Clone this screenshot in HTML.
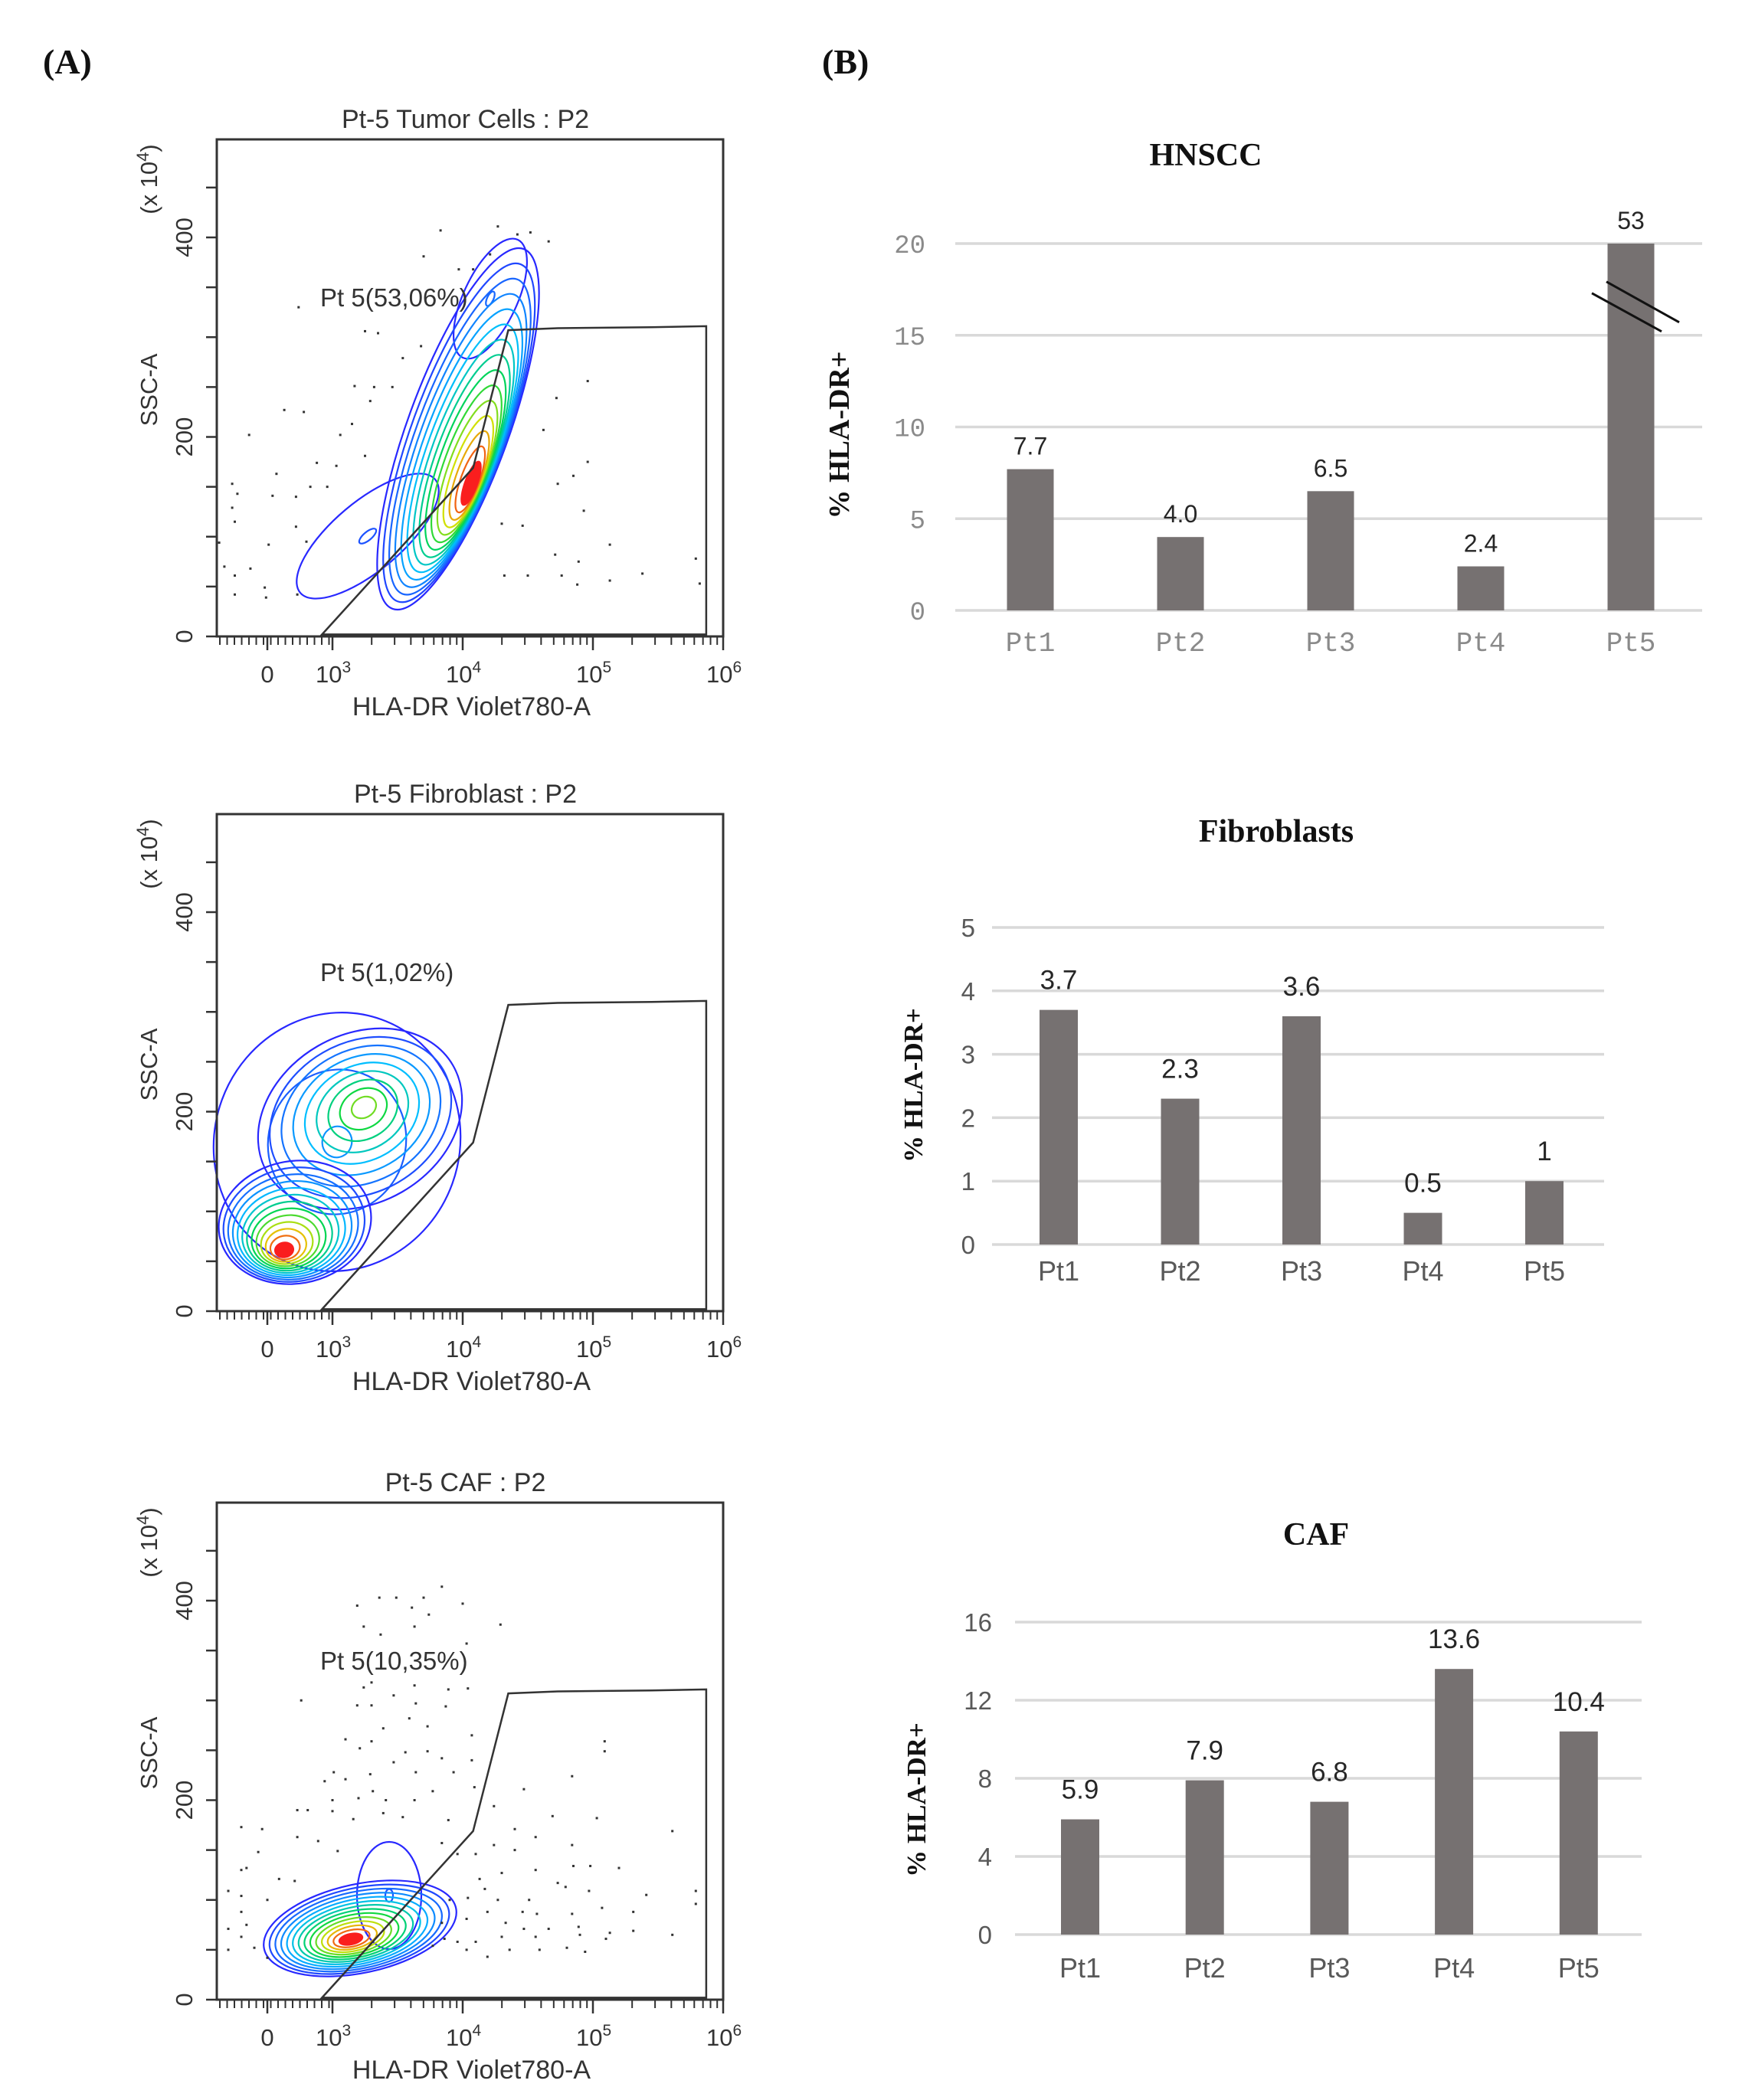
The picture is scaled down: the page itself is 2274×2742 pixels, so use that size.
<!DOCTYPE html>
<html><head><meta charset="utf-8">
<style>
html,body{margin:0;padding:0;background:#fff;}
svg{display:block;}
</style></head>
<body>
<svg id="fig" xmlns="http://www.w3.org/2000/svg" width="2274" height="2742" viewBox="0 0 2274 2742">
<rect x="0" y="0" width="2274" height="2742" fill="#fff"/>
<text x="56" y="96" font-family="Liberation Serif, serif" font-weight="bold" font-size="46" fill="#111">(A)</text>
<text x="1073" y="96" font-family="Liberation Serif, serif" font-weight="bold" font-size="46" fill="#111">(B)</text>
<g id="flows"></g>
<g id="bars"></g>
</svg>
<script>
// ---------- Bar chart data ----------
const categories = ["Pt1","Pt2","Pt3","Pt4","Pt5"];
const hnsccValues = [7.7, 4.0, 6.5, 2.4, 53];
const hnsccLabels = ["7.7","4.0","6.5","2.4","53"];
const hnsccTicks = [0,5,10,15,20];
const fibroValues = [3.7, 2.3, 3.6, 0.5, 1];
const fibroLabels = ["3.7","2.3","3.6","0.5","1"];
const fibroTicks = [0,1,2,3,4,5];
const cafValues = [5.9, 7.9, 6.8, 13.6, 10.4];
const cafLabels = ["5.9","7.9","6.8","13.6","10.4"];
const cafTicks = [0,4,8,12,16];

// ---------- Flow cytometry dot data (x in log decades, y in SSC x10^4) ----------
const tumorDotsX = [3.83,4.27,4.42,4.52,4.66,4.21,3.7,3.97,4.08,2.74,3.25,3.35,3.68,3.54,3.17,3.32,3.46,2.63,2.78,3.29,3.15,3.06,2.36,2.88,3.03,3.25,2.57,2.23,2.27,2.54,2.72,2.83,2.96,2.23,2.72,2.25,2.13,2.51,2.8,2.17,2.37,2.25,2.48,2.25,2.49,2.73,4.96,4.72,4.62,4.96,4.85,4.73,4.93,5.13,4.71,4.89,4.32,4.5,4.76,4.88,5.13,5.38,5.79,5.82,4.3,4.46];
const tumorDotsY = [407,411,403,405,396,383,381,368,368,330,306,304,291,279,251,250,250,227,225,236,213,202,202,174,171,181,163,153,143,141,140,150,150,129,110,115,94,92,95,70,68,61,49,42,39,42,256,239,207,175,161,153,126,92,82,75,61,61,61,52,56,63,78,53,113,111];
const cafDotsX = [3.84,3.36,3.49,3.70,3.19,3.61,3.74,4.0,4.29,3.24,3.63,3.37,4.03,2.76,3.24,3.30,3.47,3.63,3.89,4.04,3.19,3.30,3.64,3.87,3.39,3.59,3.73,3.1,3.21,3.30,3.56,3.73,3.84,4.07,4.07,3.01,3.1,3.29,3.47,3.64,3.93,2.94,3.31,3.77,4.09,3.0,3.2,3.41,3.63,2.73,2.81,3.0,3.16,3.39,3.54,3.89,4.24,2.73,2.89,3.04,2.43,2.3,2.46,2.3,2.34,2.59,2.71,2.2,2.3,2.5,2.3,2.34,2.2,2.3,2.4,2.2,2.5,3.84,3.96,4.1,4.24,4.4,4.56,4.4,4.47,4.69,4.84,5.03,5.09,5.09,5.61,4.84,4.85,4.98,5.2,4.13,4.3,4.56,4.73,4.79,4.97,5.41,5.79,5.79,4.17,4.27,4.51,4.04,3.9,4.19,4.46,4.57,4.84,5.07,5.31,4.03,3.84,4.33,4.47,4.66,4.89,5.13,5.31,5.61,3.86,3.96,4.1,4.3,4.56,4.9,5.1,4.03,4.19,4.36,4.59,4.8,4.94,3.77];
const cafDotsY = [414,403,403,403,395,393,386,397,376,374,374,366,357,300,313,318,305,315,311,312,295,295,297,294,272,282,274,261,252,259,248,249,242,265,240,228,221,226,238,228,228,219,209,209,213,200,202,200,200,190,190,189,181,187,183,180,194,163,159,149,148,173,171,130,132,121,119,109,104,100,88,75,71,63,52,50,42,157,146,146,155,150,163,171,211,184,224,182,259,249,169,155,134,134,132,121,127,130,117,113,109,105,109,96,111,100,100,102,100,88,88,86,86,92,88,81,77,77,71,71,73,67,69,65,61,58,58,63,63,65,61,50,43,50,50,52,48,54];
const gateX = [2.92,4.08,4.35,4.73,5.45,5.87,5.87];
const gateY = [2,169,307,309,310,311,2];

const NS = "http://www.w3.org/2000/svg";
function mk(tag, attrs, parent){
  const e = document.createElementNS(NS, tag);
  for (const k in attrs) e.setAttribute(k, attrs[k]);
  parent.appendChild(e);
  return e;
}

// ---------- Flow panels ----------
const flows = document.getElementById("flows");
const BOX_L = 283, BOX_R = 944, BOX_T = 182, BOX_B = 831;
function fx(dec){ return 434 + (dec - 3) * 170; }
function fy(s){ return BOX_B - s * 1.3025; }
function cmap(t){
  const stops = [[0,[40,40,255]],[0.35,[0,190,255]],[0.6,[0,215,70]],[0.8,[225,225,0]],[1,[250,30,30]]];
  for (let i=1;i<stops.length;i++){
    if (t <= stops[i][0]){
      const a = stops[i-1], b = stops[i];
      const u = (t - a[0])/(b[0]-a[0]);
      const c = a[1].map((v,j)=>Math.round(v + (b[1][j]-v)*u));
      return "rgb("+c.join(",")+")";
    }
  }
  return "rgb(250,30,30)";
}
function contour(g, cx, cy, rx, ry, rot, n, sx, sy, tmax){
  for (let i=0;i<n;i++){
    const t = i/(n-1);
    const k = 1 - 0.88*t;
    const e = mk("ellipse", {cx: cx + sx*t, cy: cy + sy*t, rx: rx*k, ry: ry*k,
      transform: "rotate("+rot+" "+(cx+sx*t)+" "+(cy+sy*t)+")",
      fill: i===n-1 && tmax>=1 ? cmap(1) : "none", stroke: cmap(t*tmax), "stroke-width": 2.2}, g);
    
    
  }
}
const panels = [
  {dy:0, title:"Pt-5 Tumor Cells : P2", pct:"Pt 5(53,06%)", pctY:400, dotsX:tumorDotsX, dotsY:tumorDotsY, name:"tumor"},
  {dy:881, title:"Pt-5 Fibroblast : P2", pct:"Pt 5(1,02%)", pctY:400, dotsX:[], dotsY:[], name:"fibroblast"},
  {dy:1780, title:"Pt-5 CAF : P2", pct:"Pt 5(10,35%)", pctY:400, dotsX:cafDotsX, dotsY:cafDotsY, name:"caf"}
];
panels.forEach((p, pi) => {
  const g = mk("g", {transform:"translate(0,"+p.dy+")"}, flows);
  
  
  const font = "Liberation Sans, Arial, sans-serif";
  const tt = mk("text", {x:(BOX_L+BOX_R)/2 - 6, y:167, "text-anchor":"middle", "font-family":font, "font-size":34, fill:"#333"}, g);
  tt.textContent = p.title;
  
  
  const cg = mk("g", {}, g);
  
  
  if (pi === 0){
    contour(cg, 480, 700, 115, 45, -40, 2, 0, 0, 0.1);
    contour(cg, 640, 390, 85, 35, -65, 2, 0, 0, 0.15);
    contour(cg, 598, 560, 250, 66, -70, 15, 17, 71, 1);
  } else if (pi === 1){
    contour(cg, 440, 610, 160, 170, 20, 3, 0, 0, 0.25);
    contour(cg, 470, 580, 140, 110, -30, 9, 5, -15, 0.7);
    contour(cg, 385, 715, 100, 80, -10, 13, -14, 36, 1);
  } else {
    contour(cg, 508, 695, 42, 70, 0, 2, 0, 0, 0.1);
    contour(cg, 470, 738, 128, 58, -12, 14, -12, 14, 1);
  }
  const dg = mk("g", {fill:"#333"}, g);
  
  
  for (let i=0;i<p.dotsX.length;i++){
    const d = mk("rect", {x: fx(p.dotsX[i])-1.5, y: fy(p.dotsY[i])-1.5, width:3, height:3}, dg);
    
    
  }
  const pts = gateX.map((x,i)=> fx(x)+","+fy(gateY[i])).join(" ");
  const gate = mk("polygon", {points:pts, fill:"none", stroke:"#333", "stroke-width":2.5}, g);
  
  
  const gl = mk("text", {x:418, y:p.pctY, "font-family":font, "font-size":33, fill:"#333"}, g);
  gl.textContent = p.pct;
  
  
  const box = mk("rect", {x:BOX_L, y:BOX_T, width:BOX_R-BOX_L, height:BOX_B-BOX_T, fill:"none", stroke:"#333", "stroke-width":3}, g);
  
  
  for (let s=0; s<=450; s+=50){
    const t = mk("line", {x1:BOX_L-14, x2:BOX_L, y1:fy(s), y2:fy(s), stroke:"#333", "stroke-width":2.5}, g);
    
    
  }
  [0,200,400].forEach(v=>{
    const t = mk("text", {x:0, y:0, transform:"translate(251,"+fy(v)+") rotate(-90)", "text-anchor":"middle", "font-family":font, "font-size":31, fill:"#333"}, g);
    t.textContent = String(v);
    
    
  });
  const yt = mk("text", {x:0, y:0, transform:"translate(205,509) rotate(-90)", "text-anchor":"middle", "font-family":font, "font-size":31, fill:"#333"}, g);
  yt.textContent = "SSC-A";
  
  
  const ys = mk("text", {x:0, y:0, transform:"translate(205,234) rotate(-90)", "text-anchor":"middle", "font-family":font, "font-size":31, fill:"#333"}, g);
  ys.innerHTML = '(x 10<tspan dy="-11" font-size="22">4</tspan><tspan dy="11">)</tspan>';
  
  
  for (let x=BOX_L+4; x<fx(3)-2; x+=9.5){
    const t = mk("line", {x1:x, x2:x, y1:BOX_B, y2:BOX_B+11, stroke:"#333", "stroke-width":2}, g);
    
    
  }
  for (let d=3; d<6; d++){
    for (let k=2;k<=9;k++){
      const x = fx(d + Math.log10(k));
      const t = mk("line", {x1:x, x2:x, y1:BOX_B, y2:BOX_B+11, stroke:"#333", "stroke-width":2}, g);
      
      
    }
  }
  [2.42,3,4,5,6].forEach(d=>{
    const x = d===2.42 ? 349 : fx(d);
    const t = mk("line", {x1:x, x2:x, y1:BOX_B, y2:BOX_B+18, stroke:"#333", "stroke-width":2.5}, g);
    
    
  });
  const z = mk("text", {x:349, y:891, "text-anchor":"middle", "font-family":font, "font-size":31, fill:"#333"}, g);
  z.textContent = "0";
  
  
  [3,4,5,6].forEach(d=>{
    const t = mk("text", {x:fx(d)-22, y:891, "font-family":font, "font-size":31, fill:"#333"}, g);
    t.innerHTML = '10<tspan dy="-13" font-size="21">'+d+'</tspan>';
    
    
  });
  const xt = mk("text", {x:(BOX_L+BOX_R)/2 + 2, y:934, "text-anchor":"middle", "font-family":font, "font-size":34, fill:"#333"}, g);
  xt.textContent = "HLA-DR Violet780-A";
  
  
});

// ---------- Bar charts ----------
const bars = document.getElementById("bars");
const charts = [
  {name:"hnscc", title:"HNSCC", titleX:1574, titleY:216, values:hnsccValues, labels:hnsccLabels, ticks:hnsccTicks,
   ymax:20, y0:797, ytop:318, xl:1247, xr:2222, c0:1345, step:196, bw:61, tickX:1208, tickFont:"Liberation Mono, monospace", tickColor:"#8a8a8a", tickSize:34,
   catY:850, catFont:"Liberation Mono, monospace", catSize:36, ytX:1096, ytY:568, ytSize:38, valSize:32, valGap:19, brk:true},
  {name:"fibroblasts", title:"Fibroblasts", titleX:1666, titleY:1099, values:fibroValues, labels:fibroLabels, ticks:fibroTicks,
   ymax:5, y0:1625, ytop:1211, xl:1295, xr:2094, c0:1382, step:158.5, bw:50, tickX:1273, tickFont:"Liberation Sans, Arial, sans-serif", tickColor:"#595959", tickSize:33,
   catY:1672, catFont:"Liberation Sans, Arial, sans-serif", catSize:36, ytX:1192, ytY:1417, ytSize:35, valSize:35, valGap:27, brk:false},
  {name:"caf", title:"CAF", titleX:1718, titleY:2017, values:cafValues, labels:cafLabels, ticks:cafTicks,
   ymax:16, y0:2526, ytop:2118, xl:1325, xr:2143, c0:1410, step:162.7, bw:50, tickX:1295, tickFont:"Liberation Sans, Arial, sans-serif", tickColor:"#595959", tickSize:33,
   catY:2582, catFont:"Liberation Sans, Arial, sans-serif", catSize:36, ytX:1196, ytY:2350, ytSize:35, valSize:35, valGap:27, brk:false}
];
charts.forEach(c => {
  const g = mk("g", {}, bars);
  
  
  const ys = v => c.y0 - (Math.min(v, c.ymax) / c.ymax) * (c.y0 - c.ytop);
  const xs = i => c.c0 + i * c.step;
  const t = mk("text", {x:c.titleX, y:c.titleY, "text-anchor":"middle", "font-family":"Liberation Serif, serif", "font-weight":"bold", "font-size":42, fill:"#111"}, g);
  t.textContent = c.title;
  
  
  c.ticks.forEach(v => {
    const l = mk("line", {x1:c.xl, x2:c.xr, y1:ys(v), y2:ys(v), stroke:"#d9d9d9", "stroke-width":3.5}, g);
    
    
    const tl = mk("text", {x:c.tickX, y:ys(v)+12, "text-anchor":"end", "font-family":c.tickFont, "font-size":c.tickSize, fill:c.tickColor}, g);
    tl.textContent = String(v);
    
    
  });
  c.values.forEach((v, i) => {
    const top = ys(v);
    const b = mk("rect", {x:xs(i)-c.bw/2, y:top, width:c.bw, height:c.y0-top, fill:"#767171"}, g);
    
    
    const vl = mk("text", {x:xs(i), y:top-c.valGap, "text-anchor":"middle", "font-family":"Liberation Sans, Arial, sans-serif", "font-size":c.valSize, fill:"#262626"}, g);
    vl.textContent = c.labels[i];
    
    
    const cl = mk("text", {x:xs(i), y:c.catY, "text-anchor":"middle", "font-family":c.catFont, "font-size":c.catSize, fill:c.name==="hnscc" ? "#8a8a8a" : "#595959"}, g);
    cl.textContent = categories[i];
    
    
    if (c.brk && v > c.ymax){
      const by = ys(c.ymax * 0.825);
      const l1 = mk("line", {x1:xs(i)-51, y1:by-19, x2:xs(i)+40, y2:by+31, stroke:"#111", "stroke-width":3}, g);
      
      
      const l2 = mk("line", {x1:xs(i)-32, y1:by-34, x2:xs(i)+63, y2:by+19, stroke:"#111", "stroke-width":3}, g);
      
      
    }
  });
  const yt = mk("text", {x:0, y:0, transform:"translate("+(c.ytX+12)+","+c.ytY+") rotate(-90)", "text-anchor":"middle", "font-family":"Liberation Serif, serif", "font-weight":"bold", "font-size":c.ytSize, fill:"#111"}, g);
  yt.textContent = "% HLA-DR+";
  
  
});
</script>
</body></html>
